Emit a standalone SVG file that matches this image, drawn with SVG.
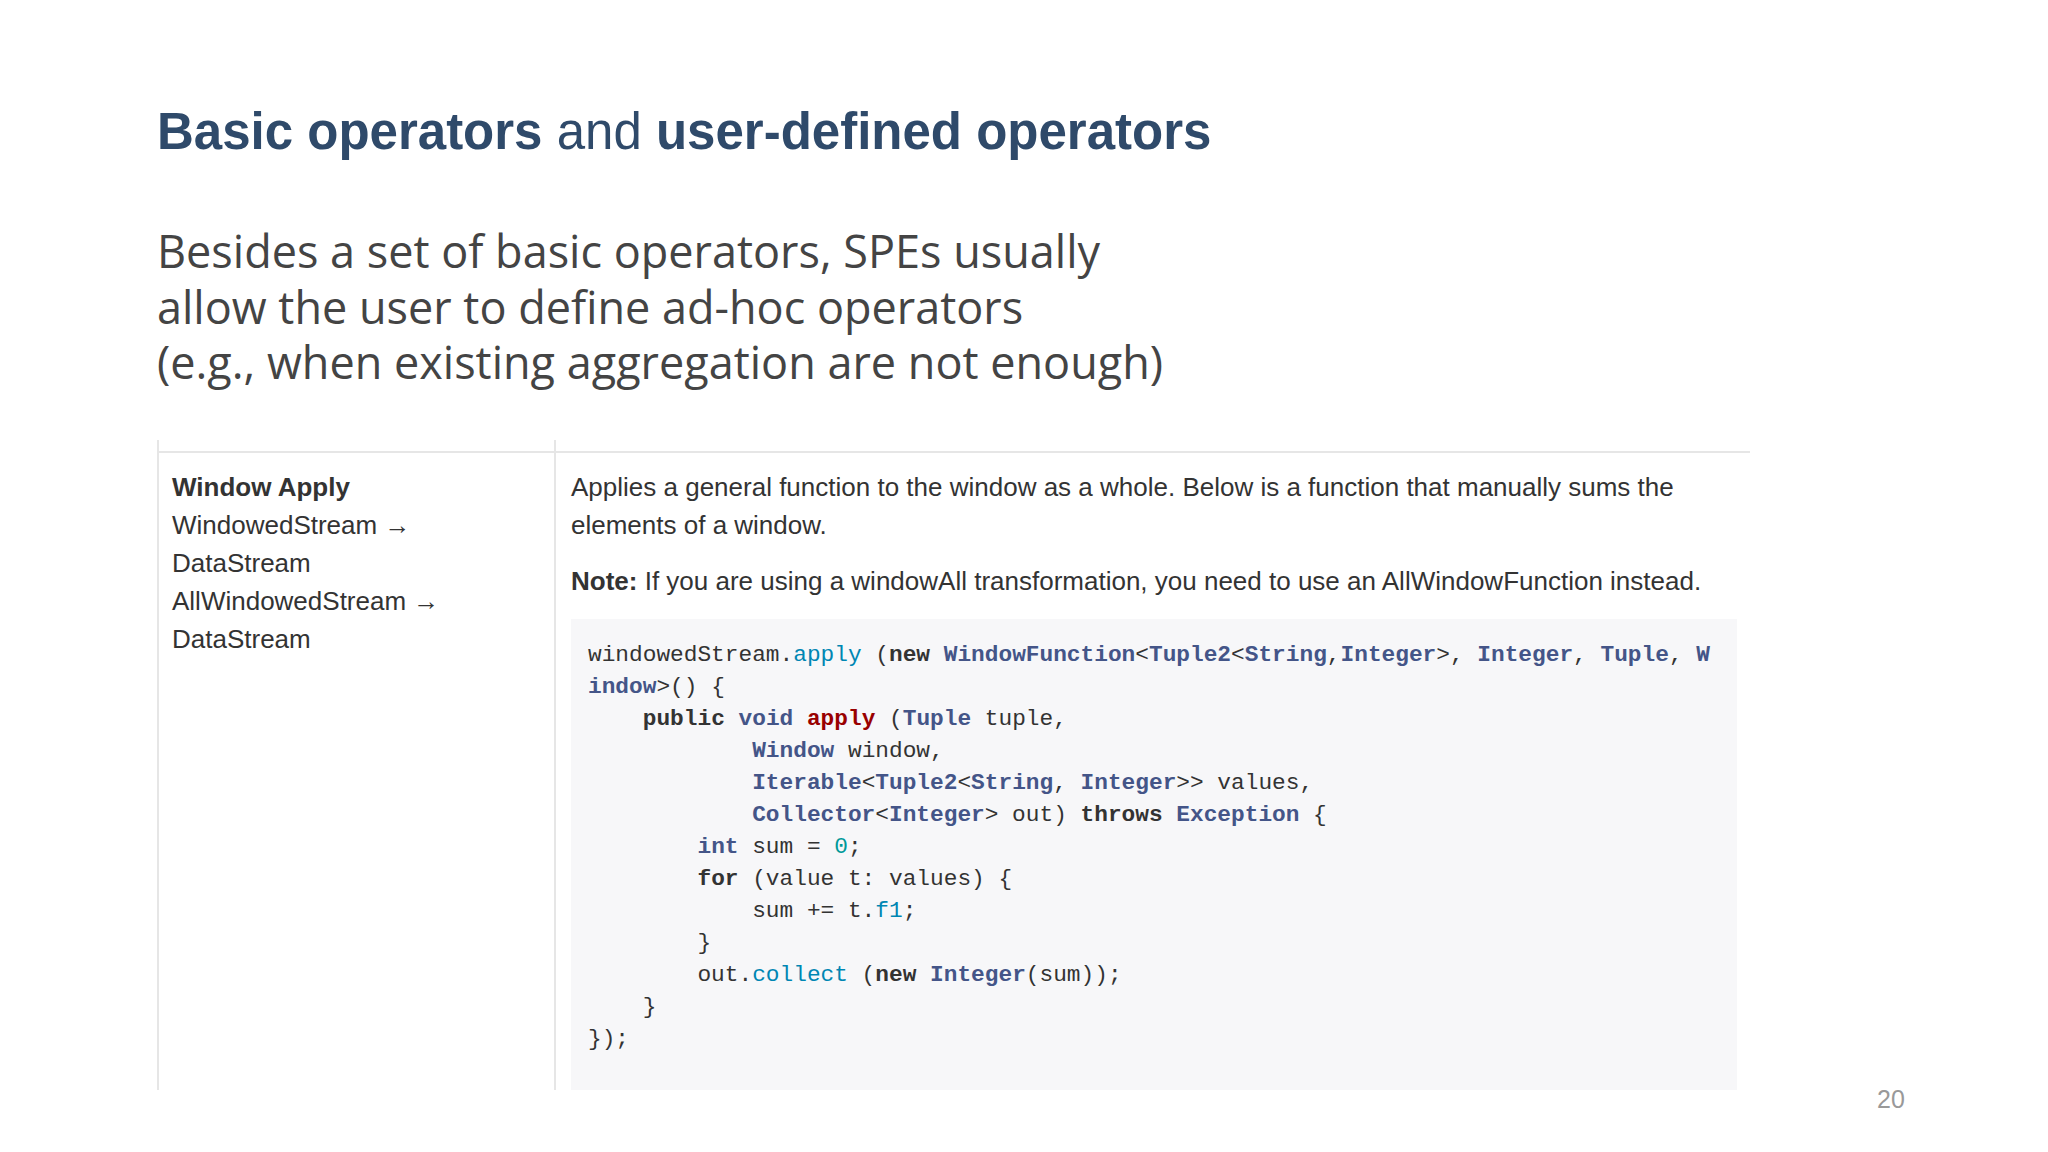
<svg xmlns="http://www.w3.org/2000/svg" width="2048" height="1152" viewBox="0 0 2048 1152">
<style>
.t{font-family:"Liberation Sans",Arial,sans-serif;font-weight:bold;font-size:51px;fill:#2f4a6a}
.b{font-family:"Open Sans","Noto Sans",sans-serif;font-size:45px;fill:#444}
.s{font-family:"Liberation Sans",Arial,sans-serif;font-size:26px;fill:#333}
.c{font-family:"Liberation Mono","DejaVu Sans Mono",monospace;font-size:22.8px;fill:#333;white-space:pre}
.k{font-weight:bold}
.ty{font-weight:bold;fill:#445588}
.m{fill:#0086b3}
.r{font-weight:bold;fill:#990000}
.n{fill:#009999}
</style>
<rect width="2048" height="1152" fill="#ffffff"/>
<g id="title"><text class="t" x="157" y="149">Basic operators <tspan font-weight="normal">and</tspan> user-defined operators</text></g>
<g id="body">
<text class="b" x="157" y="268">Besides a set of basic operators, SPEs usually</text>
<text class="b" x="157" y="324">allow the user to define ad-hoc operators</text>
<text class="b" x="157" y="379">(e.g., when existing aggregation are not enough)</text>
</g>
<g id="table">
<line x1="157" y1="452" x2="1750" y2="452" stroke="#e6e6e6" stroke-width="2"/>
<line x1="158" y1="440" x2="158" y2="1090" stroke="#e6e6e6" stroke-width="2"/>
<line x1="555" y1="440" x2="555" y2="1090" stroke="#e6e6e6" stroke-width="2"/>
<text class="s" x="172" y="496" font-weight="bold">Window Apply</text>
<text class="s" x="172" y="534">WindowedStream →</text>
<text class="s" x="172" y="572">DataStream</text>
<text class="s" x="172" y="610">AllWindowedStream →</text>
<text class="s" x="172" y="648">DataStream</text>
<text class="s" x="571" y="496">Applies a general function to the window as a whole. Below is a function that manually sums the</text>
<text class="s" x="571" y="534">elements of a window.</text>
<text class="s" x="571" y="590"><tspan font-weight="bold">Note:</tspan> If you are using a windowAll transformation, you need to use an AllWindowFunction instead.</text>
<rect x="571" y="619" width="1166" height="471" fill="#f7f7f9"/>
<g xml:space="preserve">
<text class="c" x="588" y="661">windowedStream.<tspan class="m">apply</tspan> (<tspan class="k">new</tspan> <tspan class="ty">WindowFunction</tspan>&lt;<tspan class="ty">Tuple2</tspan>&lt;<tspan class="ty">String</tspan>,<tspan class="ty">Integer</tspan>&gt;, <tspan class="ty">Integer</tspan>, <tspan class="ty">Tuple</tspan>, <tspan class="ty">W</tspan></text>
<text class="c" x="588" y="693"><tspan class="ty">indow</tspan>&gt;() {</text>
<text class="c" x="588" y="725">    <tspan class="k">public</tspan> <tspan class="ty">void</tspan> <tspan class="r">apply</tspan> (<tspan class="ty">Tuple</tspan> tuple,</text>
<text class="c" x="588" y="757">            <tspan class="ty">Window</tspan> window,</text>
<text class="c" x="588" y="789">            <tspan class="ty">Iterable</tspan>&lt;<tspan class="ty">Tuple2</tspan>&lt;<tspan class="ty">String</tspan>, <tspan class="ty">Integer</tspan>&gt;&gt; values,</text>
<text class="c" x="588" y="821">            <tspan class="ty">Collector</tspan>&lt;<tspan class="ty">Integer</tspan>&gt; out) <tspan class="k">throws</tspan> <tspan class="ty">Exception</tspan> {</text>
<text class="c" x="588" y="853">        <tspan class="ty">int</tspan> sum = <tspan class="n">0</tspan>;</text>
<text class="c" x="588" y="885">        <tspan class="k">for</tspan> (value t: values) {</text>
<text class="c" x="588" y="917">            sum += t.<tspan class="m">f1</tspan>;</text>
<text class="c" x="588" y="949">        }</text>
<text class="c" x="588" y="981">        out.<tspan class="m">collect</tspan> (<tspan class="k">new</tspan> <tspan class="ty">Integer</tspan>(sum));</text>
<text class="c" x="588" y="1013">    }</text>
<text class="c" x="588" y="1045">});</text>
</g>
</g>
<g id="page"><text x="1877" y="1108" font-family="Liberation Sans,Arial,sans-serif" font-size="25" fill="#999">20</text></g>
</svg>
